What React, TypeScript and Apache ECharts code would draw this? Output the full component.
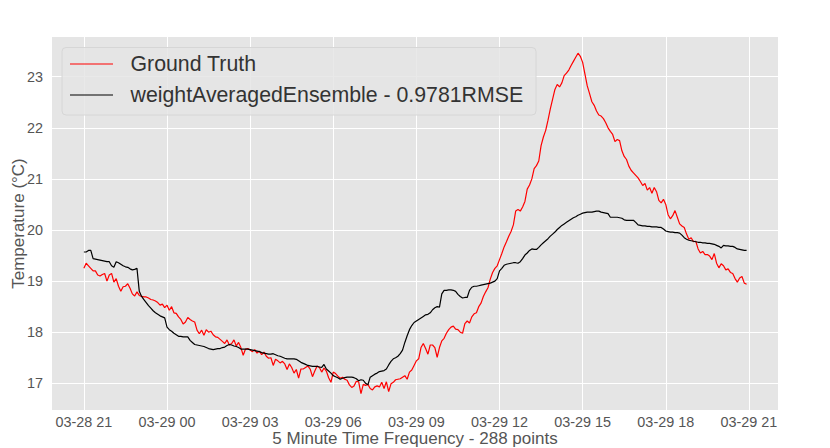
import React, { useEffect, useRef } from "react";
import * as echarts from "echarts";

const tickHours = [0, 3, 6, 9, 12, 15, 18, 21, 24];
const tickLabels = ["03-28 21", "03-29 00", "03-29 03", "03-29 06", "03-29 09", "03-29 12", "03-29 15", "03-29 18", "03-29 21"];
const yTicks = [17, 18, 19, 20, 21, 22, 23];
const stepMinutes = 5;

const groundTruth = [
  19.25, 19.35, 19.3, 19.25, 19.2, 19.2, 19.12, 19.1, 19.13, 19.15,
  19.0, 19.12, 19.15, 18.98, 19.05, 18.9, 18.8, 18.89, 18.9, 18.95,
  18.86, 18.75, 18.71, 18.79, 18.72, 18.7, 18.69, 18.69, 18.67, 18.64,
  18.63, 18.61, 18.58, 18.53, 18.55, 18.48, 18.53, 18.43, 18.5, 18.38,
  18.37, 18.3, 18.25, 18.16, 18.2, 18.29, 18.25, 18.22, 18.2, 18.04,
  17.97, 18.04, 17.94, 18.05, 18.0, 18.02, 17.95, 17.91, 17.9, 17.86,
  17.82, 17.78, 17.85, 17.75, 17.78, 17.85, 17.73, 17.8, 17.7, 17.55,
  17.67, 17.68, 17.65, 17.62, 17.66, 17.59, 17.63, 17.56, 17.61, 17.53,
  17.49, 17.5, 17.35, 17.47, 17.44, 17.4, 17.43, 17.38, 17.27, 17.38,
  17.31, 17.2, 17.27, 17.1, 17.28, 17.28, 17.31, 17.34, 17.28, 17.13,
  17.24, 17.34, 17.31, 17.22, 17.3, 17.24, 17.11, 17.02, 17.22, 17.19,
  17.14, 17.1, 17.12, 17.08, 17.06, 16.97, 16.92, 16.95, 17.04, 17.03,
  16.8, 16.98, 16.96, 16.98, 16.9, 16.87, 16.93, 16.95, 16.93, 17.02,
  16.9, 17.03, 16.84, 16.99, 17.02, 17.07, 17.08, 17.09, 17.12, 17.15,
  17.08, 17.22, 17.26, 17.35, 17.44, 17.48, 17.7, 17.78, 17.68, 17.57,
  17.75, 17.75, 17.7, 17.51, 17.7, 17.83, 17.88, 17.98, 18.05, 18.1,
  18.12, 18.06, 18.05, 18.0, 17.98, 18.17, 18.22, 18.18, 18.3, 18.36,
  18.38, 18.5, 18.57, 18.7, 18.79, 18.87, 19.04, 19.17, 19.25, 19.3,
  19.42, 19.54, 19.67, 19.77, 19.88, 19.97, 20.1, 20.37, 20.4, 20.37,
  20.45, 20.56, 20.8, 20.88, 21.0, 21.2, 21.26, 21.35, 21.65, 21.82,
  21.95, 22.15, 22.37, 22.56, 22.75, 22.85, 22.8, 22.88, 23.02, 23.07,
  23.13, 23.22, 23.3, 23.38, 23.46, 23.4, 23.28, 23.05, 22.82, 22.67,
  22.51, 22.44, 22.33, 22.25, 22.23, 22.18, 22.1, 22.0, 21.93, 21.87,
  21.73, 21.77, 21.75, 21.55, 21.44, 21.38, 21.25, 21.17, 21.12, 21.07,
  21.02, 20.95, 20.87, 20.91, 20.78, 20.83, 20.72, 20.83, 20.75, 20.58,
  20.53, 20.6, 20.5, 20.3, 20.22, 20.28, 20.38, 20.25, 20.12, 20.08,
  20.05, 19.92, 19.82, 19.85, 19.77, 19.78, 19.63, 19.55, 19.58, 19.52,
  19.52, 19.49, 19.42, 19.54, 19.35, 19.26, 19.34, 19.3, 19.22, 19.24,
  19.17, 19.15, 19.05, 18.98, 19.06, 19.09, 18.96, 18.94,
];

const ensemble = [
  19.57, 19.57, 19.6, 19.6, 19.44, 19.43, 19.42, 19.41, 19.4, 19.39,
  19.38, 19.38, 19.3, 19.27, 19.38, 19.36, 19.33, 19.3, 19.28, 19.27,
  19.24, 19.22, 19.23, 19.25, 18.8, 18.7, 18.64, 18.58, 18.52, 18.47,
  18.42, 18.38, 18.35, 18.32, 18.3, 18.28, 18.1, 18.05, 18.02, 17.98,
  17.95, 17.92, 17.92, 17.91, 17.91, 17.91, 17.84, 17.8, 17.76, 17.75,
  17.74, 17.73, 17.72, 17.7, 17.68, 17.67, 17.66, 17.67, 17.68, 17.68,
  17.7, 17.71, 17.74, 17.76, 17.75, 17.73, 17.72, 17.7, 17.67, 17.67,
  17.67, 17.67, 17.66, 17.65, 17.64, 17.63, 17.62, 17.6, 17.59, 17.58,
  17.57, 17.57, 17.58, 17.56, 17.54, 17.53, 17.51, 17.49, 17.48, 17.48,
  17.48, 17.48, 17.47, 17.44, 17.41, 17.39, 17.37, 17.35, 17.34, 17.33,
  17.33, 17.33, 17.32, 17.31, 17.37, 17.28, 17.24, 17.2, 17.15, 17.13,
  17.11, 17.08, 17.1, 17.11, 17.12, 17.12, 17.12, 17.11, 17.09, 17.05,
  17.07, 17.06, 17.0, 16.97, 17.12, 17.15, 17.18, 17.2, 17.23, 17.24,
  17.25, 17.28, 17.36, 17.43, 17.48, 17.5, 17.53, 17.58, 17.65, 17.8,
  17.93, 18.05, 18.13, 18.19, 18.22, 18.25, 18.28, 18.31, 18.34, 18.35,
  18.38, 18.44, 18.48, 18.5, 18.49, 18.75, 18.82, 18.82, 18.83, 18.83,
  18.82, 18.8, 18.74, 18.7, 18.67, 18.68, 18.68, 18.82, 18.88, 18.9,
  18.9, 18.91, 18.92, 18.93, 18.94, 18.95, 18.96, 18.98, 19.0, 19.05,
  19.2, 19.25, 19.31, 19.33, 19.34, 19.35, 19.36, 19.36, 19.35, 19.38,
  19.44, 19.51, 19.55, 19.6, 19.63, 19.62, 19.62, 19.66, 19.71, 19.75,
  19.79, 19.83, 19.88, 19.92, 19.96, 20.01, 20.05, 20.09, 20.12, 20.15,
  20.18, 20.21, 20.24, 20.26, 20.29, 20.31, 20.33, 20.34, 20.35, 20.35,
  20.35, 20.36, 20.37, 20.37, 20.35, 20.34, 20.33, 20.32, 20.25, 20.25,
  20.25, 20.25, 20.24, 20.23, 20.2, 20.19, 20.19, 20.19, 20.19, 20.15,
  20.1, 20.09, 20.08, 20.08, 20.07, 20.07, 20.06, 20.06, 20.06, 20.05,
  20.05, 20.02, 19.98, 19.97, 19.96, 19.96, 19.95, 19.95, 19.94, 19.9,
  19.85, 19.82, 19.8, 19.79, 19.78, 19.77, 19.76, 19.76, 19.75, 19.75,
  19.74, 19.74, 19.73, 19.72, 19.7, 19.68, 19.65, 19.7, 19.69, 19.69,
  19.68, 19.68, 19.66, 19.63, 19.62, 19.61, 19.6, 19.6,
];

const seriesNames = ["Ground Truth", "weightAveragedEnsemble - 0.9781RMSE"];
const seriesColors = ["#ff0000", "#000000"];

const FONT = "Liberation Sans, Arial, sans-serif";

export default function App() {
  const ref = useRef<HTMLDivElement>(null);

  useEffect(() => {
    if (!ref.current) return;
    const chart = echarts.init(ref.current, null, { renderer: "svg" });
    const toPairs = (arr: number[]) => arr.map((v, i) => [(i * stepMinutes) / 60, v]);

    chart.setOption({
      animation: false,
      backgroundColor: "#ffffff",
      grid: {
        left: 52,
        right: 52,
        top: 37,
        bottom: 38,
        show: true,
        backgroundColor: "#e5e5e5",
        borderWidth: 0,
        containLabel: false,
        outerBoundsMode: "none",
      },
      xAxis: {
        type: "value",
        min: -1.15,
        max: 25.05,
        axisLine: { show: false },
        axisTick: { show: false, customValues: tickHours },
        axisLabel: {
          customValues: tickHours,
          formatter: (v: number) => tickLabels[Math.round(v / 3)] ?? "",
          color: "#555555",
          fontSize: 14.4,
          fontFamily: FONT,
          margin: 5,
        },
        splitLine: { show: true, lineStyle: { color: "#ffffff", width: 1 } },
        name: "5 Minute Time Frequency - 288 points",
        nameLocation: "middle",
        nameGap: 20,
        nameMoveOverlap: false,
        nameTextStyle: { color: "#555555", fontSize: 17, fontFamily: FONT },
      },
      yAxis: {
        type: "value",
        min: 16.478,
        max: 23.777,
        axisLine: { show: false },
        axisTick: { show: false, customValues: yTicks },
        axisLabel: {
          customValues: yTicks,
          color: "#555555",
          fontSize: 14.4,
          fontFamily: FONT,
          margin: 9,
        },
        splitLine: { show: true, lineStyle: { color: "#ffffff", width: 1 } },
        name: "Temperature (°C)",
        nameLocation: "middle",
        nameGap: 25,
        nameMoveOverlap: false,
        nameTextStyle: { color: "#555555", fontSize: 17, fontFamily: FONT },
      },
      series: [groundTruth, ensemble].map((arr, k) => ({
        type: "line",
        name: seriesNames[k],
        data: toPairs(arr),
        showSymbol: false,
        symbol: "none",
        lineStyle: { color: seriesColors[k], width: 1.2 },
        itemStyle: { color: seriesColors[k] },
        z: 3 + k,
      })),
      graphic: [
        {
          type: "rect",
          shape: { x: 62, y: 47.5, width: 474, height: 67.5, r: 4 },
          style: { fill: "rgba(229,229,229,0.85)", stroke: "#d6d6d6", lineWidth: 1 },
          z: 10,
        },
        {
          type: "line",
          shape: { x1: 70, y1: 64, x2: 113, y2: 64 },
          style: { stroke: seriesColors[0], lineWidth: 1.2 },
          z: 11,
        },
        {
          type: "line",
          shape: { x1: 70, y1: 95, x2: 113, y2: 95 },
          style: { stroke: seriesColors[1], lineWidth: 1.2 },
          z: 11,
        },
        {
          type: "text",
          x: 130.5,
          y: 64,
          style: {
            text: seriesNames[0],
            fill: "#333333",
            fontSize: 21.3,
            fontFamily: FONT,
            verticalAlign: "middle",
            align: "left",
          },
          z: 11,
        },
        {
          type: "text",
          x: 130.5,
          y: 95,
          style: {
            text: seriesNames[1],
            fill: "#333333",
            fontSize: 21.3,
            fontFamily: FONT,
            verticalAlign: "middle",
            align: "left",
          },
          z: 11,
        },
      ],
    });

    return () => {
      chart.dispose();
    };
  }, []);

  return (
    <div
      ref={ref}
      style={{ position: "absolute", left: 0, top: 0, width: 830, height: 448 }}
    />
  );
}
